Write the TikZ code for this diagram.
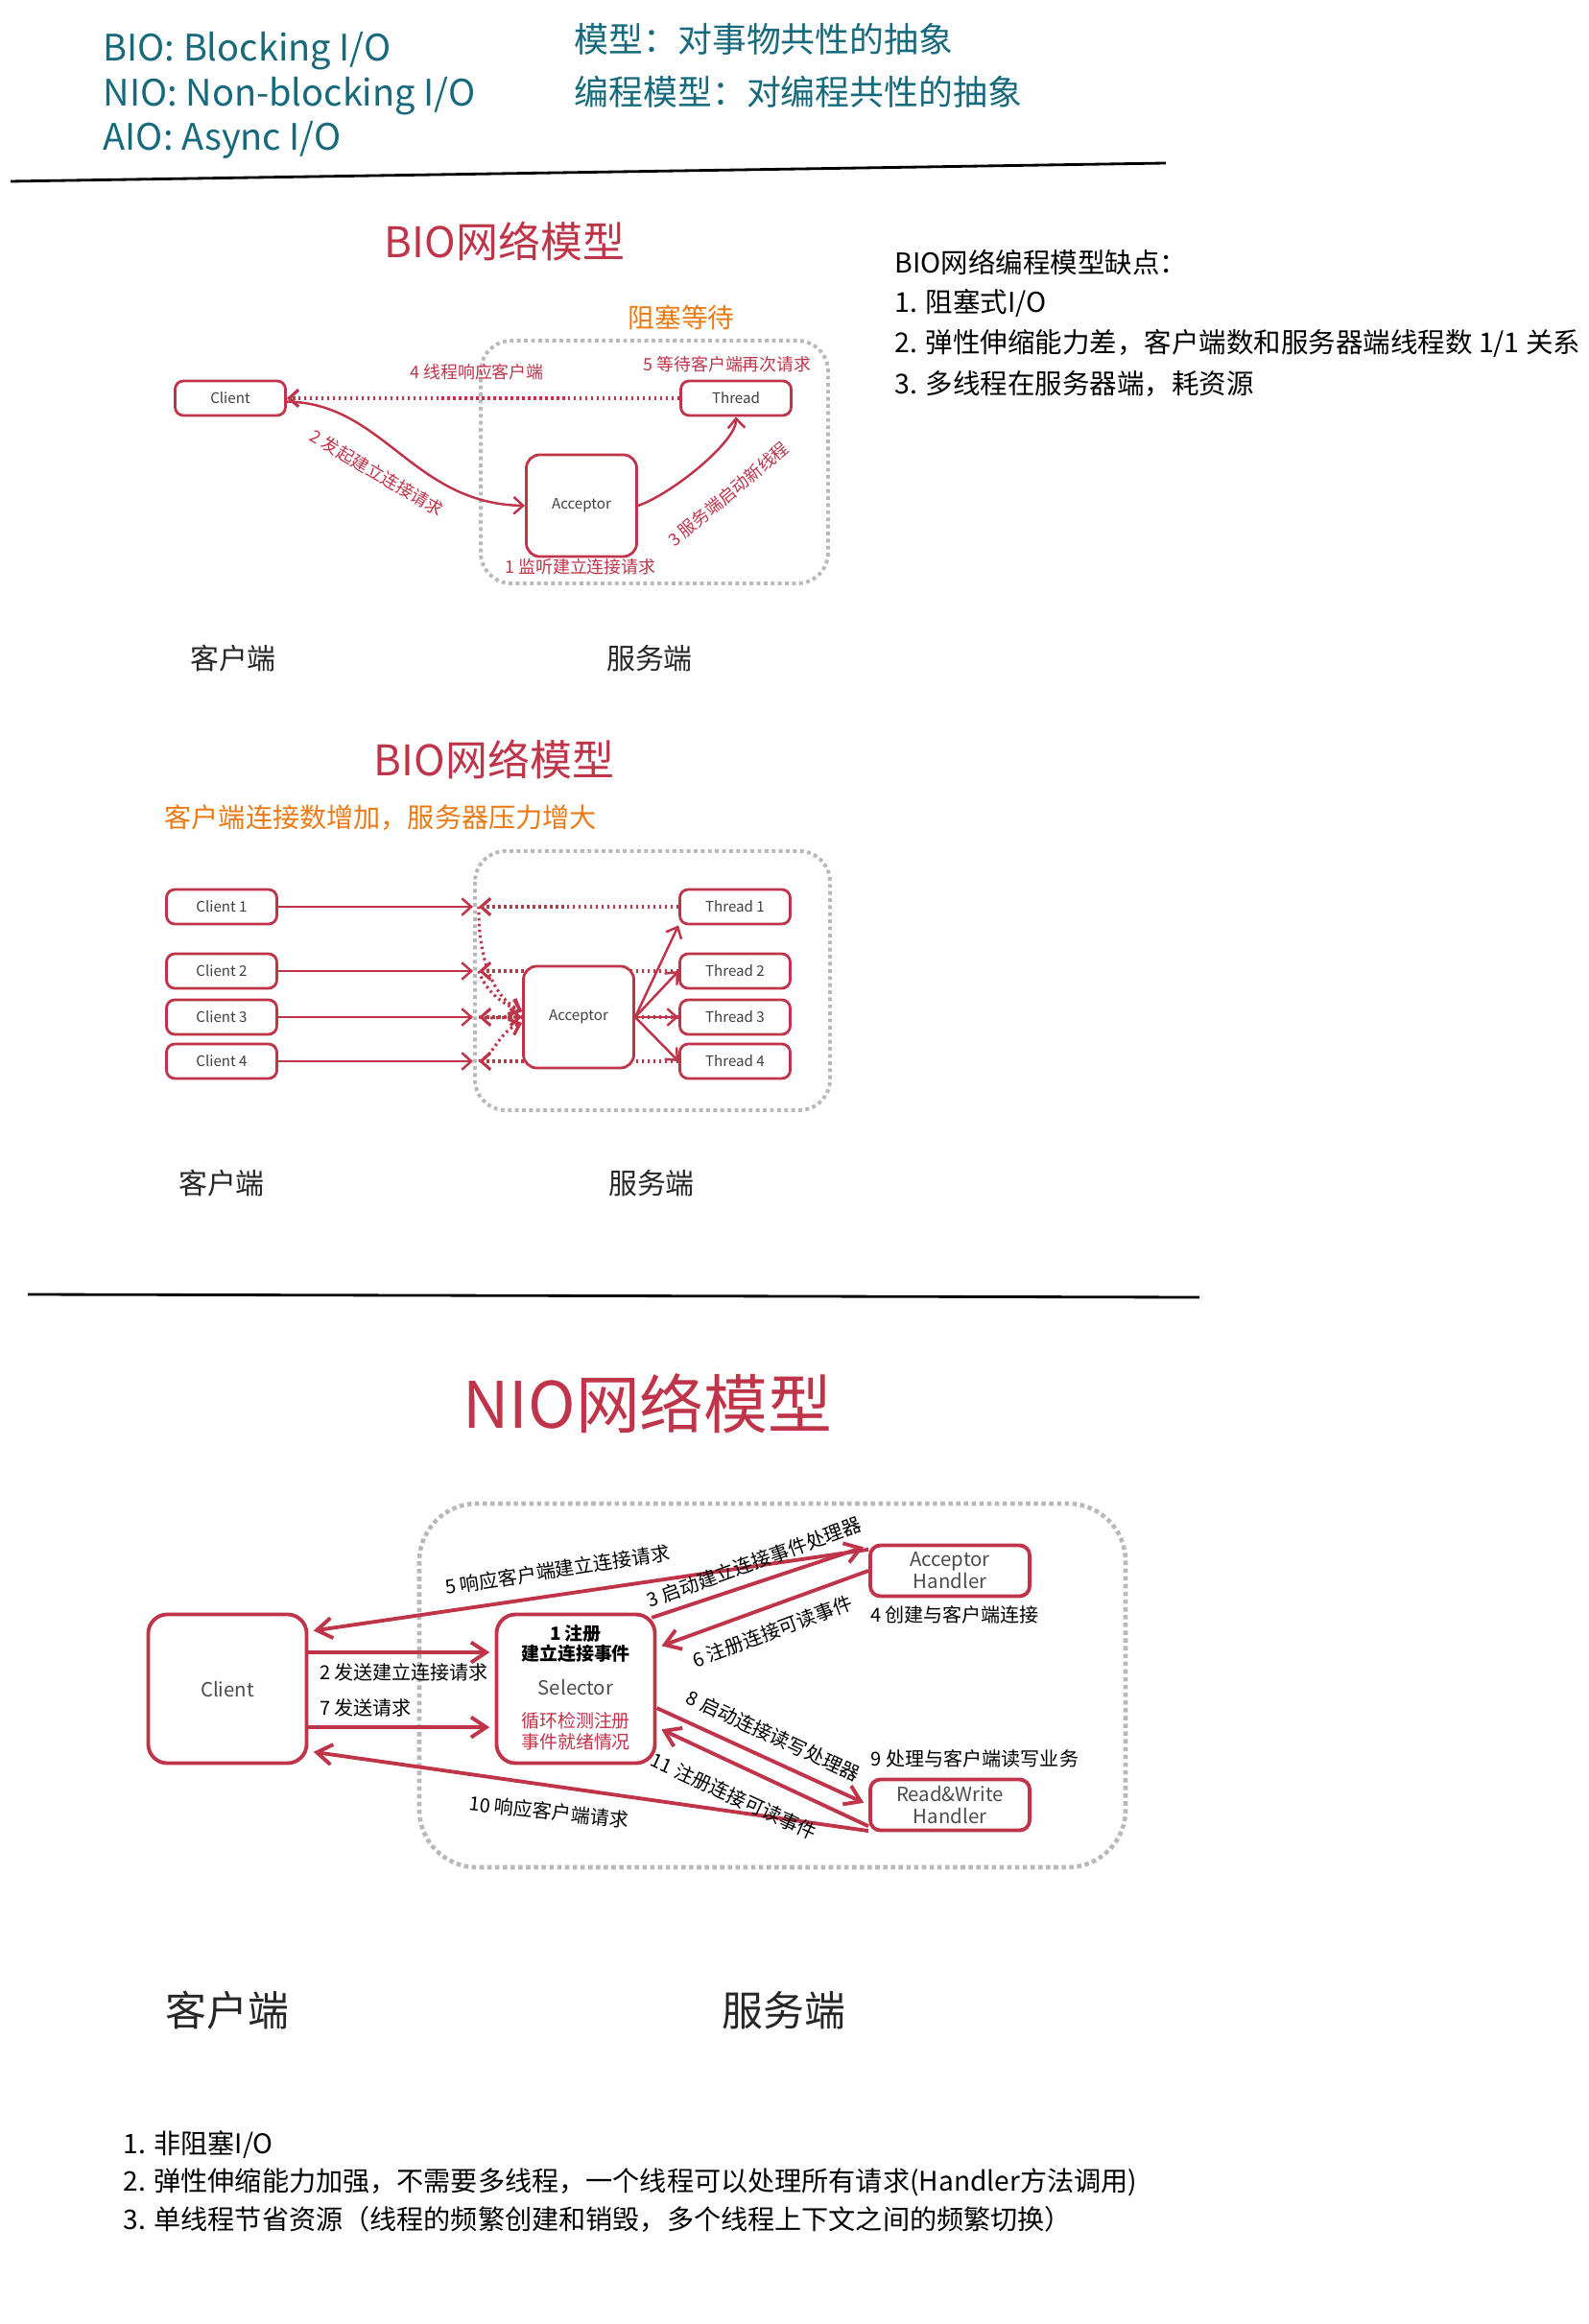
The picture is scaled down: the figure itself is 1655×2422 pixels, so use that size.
\documentclass[tikz,border=0pt]{standalone}
\usepackage{fontspec}
\setmainfont{Noto Sans CJK SC}
\usetikzlibrary{arrows.meta,positioning,calc}
\definecolor{bioRed}{RGB}{192,52,74}
\definecolor{waitOrange}{RGB}{236,122,20}
\definecolor{noteTeal}{RGB}{22,106,124}
\newcommand{\fsz}[1]{\fontsize{#1}{#1}\selectfont}

\begin{document}
\begin{tikzpicture}[
  x=0.01cm, y=-0.01cm,
  every node/.style={inner sep=0pt},
  cbox/.style={draw=bioRed, line width=0.8pt, rounded corners=2.5pt, fill=white,
    minimum width=1.15cm, minimum height=0.36cm, font=\fsz{4.3}, text=black!75},
  nbox/.style={draw=bioRed, line width=1.1pt, fill=white, align=center,
    font=\fontsize{5.8}{6.6}\selectfont, text=black!70},
  srv/.style={draw=gray!55, densely dotted, line width=1.1pt, rounded corners=0.32cm},
  arr/.style={draw=bioRed, line width=0.7pt, -{Straight Barb[length=2.8pt,width=5pt]}},
  darr/.style={arr, densely dotted, line width=0.9pt},
  narr/.style={draw=bioRed, line width=1.1pt, shorten >=1.5pt,
    -{Straight Barb[length=4.5pt,width=6pt]}},
  lbl/.style={text=bioRed, font=\fsz{5.1}},
  nlbl/.style={text=black, font=\fsz{5.7}},
  ttl/.style={text=bioRed, font=\fsz{12.5}},
  sidelbl/.style={text=black!85, font=\fsz{8.5}},
  notes/.style={anchor=west, font=\fsz{8.1}},
]

% page
\fill[white] (0,0) rectangle (1655,2422);
\useasboundingbox (0,0) rectangle (1655,2422);

% terms
\node[anchor=west, text=noteTeal, font=\fsz{10.8}] (bio) at (107,53) {BIO: Blocking I/O};
\node[anchor=west, text=noteTeal, font=\fsz{10.8}] (nio) at (107,100) {NIO: Non-blocking I/O};
\node[anchor=west, text=noteTeal, font=\fsz{10.8}] (aio) at (107,146) {AIO: Async I/O};
\node[anchor=west, text=noteTeal, font=\fsz{10.2}] (mdl) at (598,41) {模型：对事物共性的抽象};
\node[anchor=west, text=noteTeal, font=\fsz{10.2}] (pmdl) at (598,96) {编程模型：对编程共性的抽象};
\draw[line width=0.8pt] (11,189) -- (1215,170);

% BIO model
\node[ttl] (bioT) at (526,252) {BIO网络模型};
\node[text=waitOrange, font=\fsz{7.9}] (wait) at (710,331) {阻塞等待};
\draw[srv] (501,355) rectangle (863,608);
\node[cbox] (client) at (240,415) {Client};
\node[cbox] (thread) at (767,415) {Thread};
\node[cbox, minimum height=1.06cm, rounded corners=4pt] (acc) at (606,527) {Acceptor};
\draw[darr] (thread.west) -- (client.east);
\draw[arr] ([yshift=-1pt]client.east) .. controls (400,420) and (430,525) .. (acc.west);
\draw[arr] (acc.east) .. controls (700,515) and (768,460) .. (thread.south);
\node[lbl] (l4) at (497,388) {4 线程响应客户端};
\node[lbl] (l5) at (758,380) {5 等待客户端再次请求};
\node[lbl] (l1) at (605,591) {1 监听建立连接请求};
\node[lbl, rotate=-30.5] (l2) at (393,493) {2 发起建立连接请求};
\node[lbl, rotate=40] (l3) at (759,515) {3 服务端启动新线程};
\node[sidelbl] (cli1) at (243,686) {客户端};
\node[sidelbl] (srv1) at (677,686) {服务端};

% drawbacks
\node[notes] (bad) at (932,273) {BIO网络编程模型缺点：};
\node[notes] (bad1) at (932,316) {1. 阻塞式I/O};
\node[notes] (bad2) at (932,358) {2. 弹性伸缩能力差，客户端数和服务器端线程数 1/1 关系};
\node[notes] (bad3) at (932,400) {3. 多线程在服务器端，耗资源};

% BIO model, more clients
\node[ttl] (bioT2) at (515,792) {BIO网络模型};
\node[anchor=west, text=waitOrange, font=\fsz{8}] (load) at (171,852) {客户端连接数增加，服务器压力增大};
\draw[srv] (495,887) rectangle (865,1157);
\foreach \i/\yy in {1/945,2/1012,3/1060,4/1106} {
  \node[cbox] (c\i) at (231,\yy) {Client \i};
  \node[cbox] (t\i) at (766,\yy) {Thread \i};
  \coordinate (e\i) at (493,\yy);
  \coordinate (r\i) at (499,\yy);
  \draw[arr] (c\i) -- (e\i);
  \draw[darr] (t\i) -- (r\i);
}
\node[cbox, minimum height=1.06cm, rounded corners=4pt] (acc2) at (603,1060) {Acceptor};
\draw[darr] (r1) .. controls (498,1000) and (515,1040) .. ([yshift=1.7pt]acc2.west);
\draw[darr] (r2) .. controls (505,1030) and (520,1045) .. ([yshift=1.7pt]acc2.west);
\draw[darr] (r3) .. controls (515,1062) and (525,1060) .. (acc2.west);
\draw[darr] (r4) .. controls (515,1100) and (520,1075) .. ([yshift=-1.7pt]acc2.west);
\draw[arr] (acc2.east) -- (t1.south west);
\foreach \i in {2,3,4} \draw[arr] (acc2.east) -- (t\i.west);
\node[sidelbl] (cli2) at (231,1233) {客户端};
\node[sidelbl] (srv2) at (679,1233) {服务端};
\draw[line width=0.8pt] (29,1349) -- (1250,1352);

% NIO model
\node[ttl, font=\fsz{19}] (nioT) at (675,1463) {NIO网络模型};
\draw[srv, line width=1.3pt, rounded corners=0.6cm] (437,1567) rectangle (1173,1946);
\node[nbox, minimum width=1.65cm, minimum height=1.55cm, rounded corners=0.2cm] (nclient) at (237,1760) {Client};
\node[nbox, minimum width=1.65cm, minimum height=1.55cm, rounded corners=0.2cm] (sel) at (600,1760) {};
\node[font=\bfseries\fsz{5.4}] (selA) at (600,1702) {1 注册};
\node[font=\bfseries\fsz{5.4}] (selB) at (600,1723) {建立连接事件};
\node[text=black!70, font=\fsz{5.8}] (selName) at (600,1758) {Selector};
\node[text=bioRed, font=\fsz{5.4}] (selC) at (600,1793) {循环检测注册};
\node[text=bioRed, font=\fsz{5.4}] (selD) at (600,1815) {事件就绪情况};
\node[nbox, minimum width=1.66cm, minimum height=0.53cm, rounded corners=3pt] (acch) at (990,1637) {Acceptor\\Handler};
\node[nbox, minimum width=1.66cm, minimum height=0.53cm, rounded corners=3pt] (rwh) at (990,1881) {Read\&Write\\Handler};
\draw[narr] ([yshift=10.8pt]nclient.east) -- ([yshift=10.8pt]sel.west);
\draw[narr] ([yshift=-11.4pt]nclient.east) -- ([yshift=-11.4pt]sel.west);
\draw[narr] ([shift={(-1.5pt,-1.5pt)}]sel.north east) -- ([yshift=7.5pt]acch.west);
\draw[narr] ([yshift=6.3pt]acch.west) -- ([yshift=17pt]nclient.east);
\draw[narr] (acch.west) -- ([yshift=12.2pt]sel.east);
\draw[narr] ([yshift=-5.7pt]sel.east) -- (rwh.west);
\draw[narr] ([yshift=-6.3pt]rwh.west) -- ([yshift=-11.4pt]sel.east);
\draw[narr] ([yshift=-7.7pt]rwh.west) -- ([yshift=-18.5pt]nclient.east);
\node[nlbl] (n2) at (421,1743) {2 发送建立连接请求};
\node[nlbl] (n7) at (381,1780) {7 发送请求};
\node[nlbl, rotate=8.8] (n5) at (581,1636) {5 响应客户端建立连接请求};
\node[nlbl, rotate=20] (n3) at (786,1628) {3 启动建立连接事件处理器};
\node[nlbl, rotate=20.6] (n6) at (805,1700) {6 注册连接可读事件};
\node[nlbl] (n4) at (995,1683) {4 创建与客户端连接};
\node[nlbl, rotate=-25] (n8) at (806,1809) {8 启动连接读写处理器};
\node[nlbl] (n9) at (1016,1833) {9 处理与客户端读写业务};
\node[nlbl, rotate=-24.6] (n11) at (765,1872) {11 注册连接可读事件};
\node[nlbl, rotate=-6] (n10) at (572,1888) {10 响应客户端请求};
\node[sidelbl, font=\fsz{12.2}] (cli3) at (237,2095) {客户端};
\node[sidelbl, font=\fsz{12.2}] (srv3) at (817,2095) {服务端};

% gains
\node[notes, font=\fsz{8}] (good1) at (128,2235) {1. 非阻塞I/O};
\node[notes, font=\fsz{8}] (good2) at (128,2274) {2. 弹性伸缩能力加强，不需要多线程，一个线程可以处理所有请求(Handler方法调用)};
\node[notes, font=\fsz{8}] (good3) at (128,2313) {3. 单线程节省资源（线程的频繁创建和销毁，多个线程上下文之间的频繁切换）};

\end{tikzpicture}
\end{document}
